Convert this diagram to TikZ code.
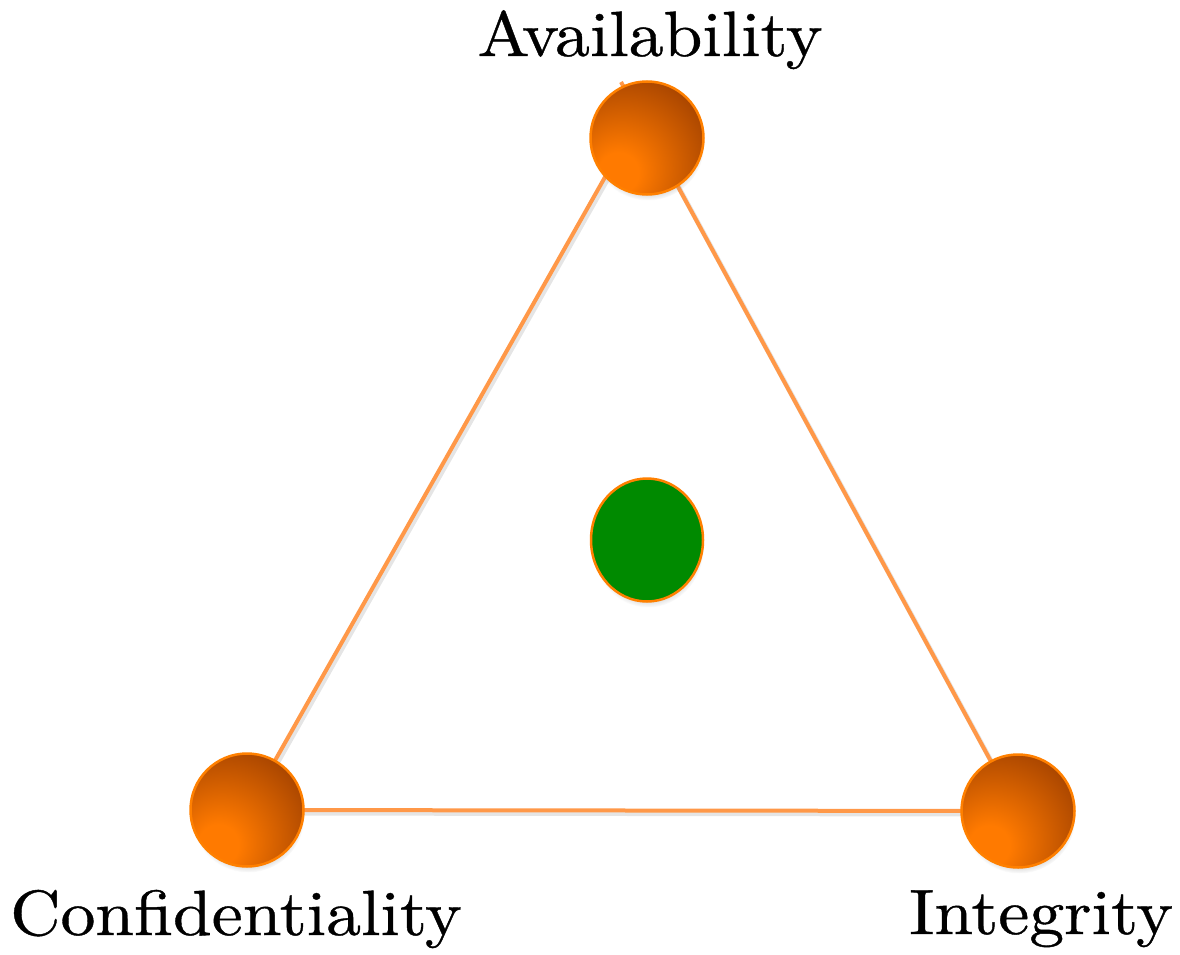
\documentclass[tikz,border=0pt]{standalone}
\usepackage{fontspec}
\newfontfamily\lblfont{lmroman10-regular.otf}[FakeStretch=1.09, FakeBold=0.6]
\usetikzlibrary{shadows,shapes.geometric}
\definecolor{ballL}{RGB}{255,122,0}
\definecolor{ballD}{RGB}{160,64,0}
\definecolor{ballB}{RGB}{255,128,0}
\definecolor{edgeor}{RGB}{255,152,72}
\definecolor{midgreen}{RGB}{0,138,0}
\pgfdeclareradialshading{ballshade}{\pgfpoint{-14bp}{-17bp}}{color(0bp)=(ballL); color(9bp)=(ballL); color(42bp)=(ballD); color(100bp)=(ballD)}
\pgfdeclarelayer{background}
\pgfsetlayers{background,main}
\tikzset{
  ball/.style={circle, minimum size=113pt, inner sep=0pt, draw=ballB, line width=2.5pt,
    shade, shading=ballshade,
    circular drop shadow={shadow xshift=1pt, shadow yshift=-6pt, opacity=0.35, shadow scale=1.0}},
  hub/.style={ellipse, minimum width=112pt, minimum height=123pt, inner sep=0pt,
    draw=ballB, line width=2.5pt, fill=midgreen,
    circular drop shadow={shadow xshift=1pt, shadow yshift=-6pt, opacity=0.35, shadow scale=1.0}},
  edge/.style={draw=edgeor, line width=4pt},
  edgeshadow/.style={draw=black, opacity=0.10, line width=5pt, transform canvas={xshift=2pt, yshift=-3pt}},
  lbl/.style={anchor=base, inner sep=0pt, font=\lblfont\fontsize{64}{64}\selectfont}
}
\begin{document}
\begin{tikzpicture}[x=1pt,y=-1pt]
\useasboundingbox (0,0) rectangle (1180,955);
\node[ball] (A) at (647,138) {};
\node[ball] (C) at (247,810) {};
\node[ball] (I) at (1018,811) {};
\node[hub] (G) at (647,540) {};
\coordinate (stub) at (621,82);
\coordinate (ain) at (626,140);
\begin{pgfonlayer}{background}
\draw[edgeshadow] (ain) -- (C.center);
\draw[edgeshadow] (stub) -- (I.center);
\draw[edgeshadow] (C.center) -- (I.center);
\draw[edge] (ain) -- (C.center);
\draw[edge] (stub) -- (I.center);
\draw[edge] (C.center) -- (I.center);
\end{pgfonlayer}
\node[lbl] (tA) at (650,56) {Availability};
\node[lbl] (tC) at (236,935) {Confidentiality};
\node[lbl] (tI) at (1041,934) {Integrity};
\end{tikzpicture}
\end{document}
